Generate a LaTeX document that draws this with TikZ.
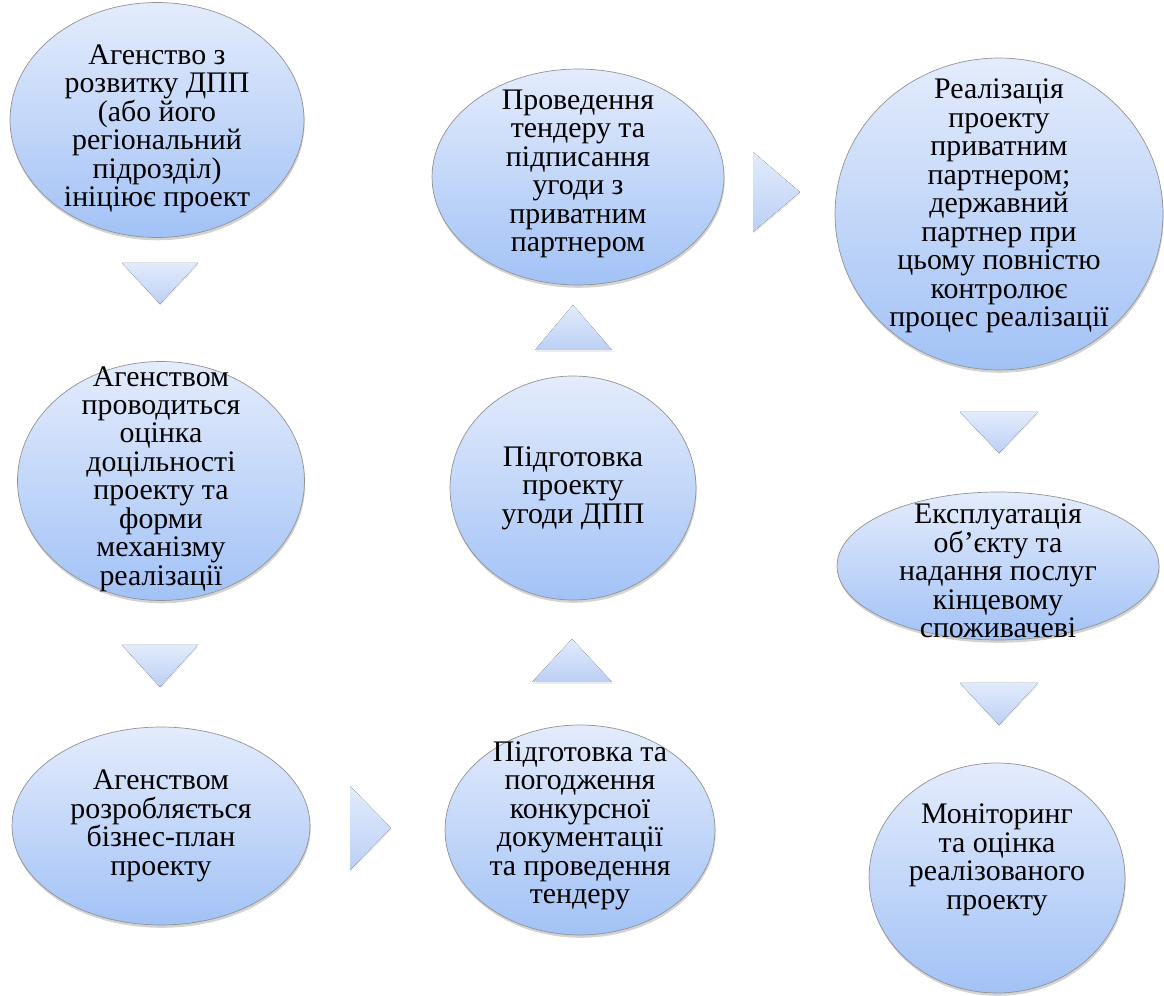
\documentclass[tikz,border=0pt]{standalone}
\usepackage{fontspec}
\setmainfont{Liberation Serif}[Ligatures=TeX]
\usepackage{tikz}
\usetikzlibrary{shapes.geometric, shadows}

\definecolor{bubtop}{RGB}{228,236,252}
\definecolor{bubbot}{RGB}{162,194,246}
\definecolor{tritop}{RGB}{226,235,252}
\definecolor{tribot}{RGB}{188,208,245}

\tikzset{
  bubble/.style={draw=gray!85, thin, ellipse, inner sep=0pt, top color=bubtop, bottom color=bubbot,
    drop shadow={shadow xshift=0.4pt, shadow yshift=-1.6pt, opacity=0.35, fill=gray}},
  bubtext/.style={align=center, inner sep=0pt, font=\rmfamily\fontsize{17}{16.2}\selectfont},
  arrowtri/.style={top color=tritop, bottom color=tribot, draw=none,
    drop shadow={shadow xshift=0.3pt, shadow yshift=-1pt, opacity=0.15, fill=gray}}
}

\begin{document}
\begin{tikzpicture}[x=0.02cm, y=-0.02cm]
        \useasboundingbox (0,0) rectangle (1164,996);
        % Process steps of the PPP project
        \node[bubble, minimum width=5.88cm, minimum height=4.70cm] (init) at (157,120) {};
        \node[bubble, minimum width=5.74cm, minimum height=4.78cm] (assess) at (161,481) {};
        \node[bubble, minimum width=5.96cm, minimum height=3.96cm] (plan) at (161,826) {};
        \node[bubble, minimum width=5.40cm, minimum height=4.20cm] (docs) at (580,830) {};
        \node[bubble, minimum width=4.92cm, minimum height=4.48cm] (draft) at (573,488) {};
        \node[bubble, minimum width=5.84cm, minimum height=4.32cm] (tender) at (578,177) {};
        \node[bubble, minimum width=6.56cm, minimum height=6.24cm] (impl) at (999,214) {};
        \node[bubble, minimum width=6.44cm, minimum height=2.96cm] (oper) at (998,566) {};
        \node[bubble, minimum width=5.12cm, minimum height=4.60cm] (monit) at (997,878) {};

        \node[bubtext] (initt) at (157,129) {Агенство з\\розвитку ДПП\\(або його\\регіональний\\підрозділ)\\ініціює проект};
        \node[bubtext] (assesst) at (161,479) {Агенством\\проводиться\\оцінка\\доцільності\\проекту та\\форми\\механізму\\реалізації};
        \node[bubtext] (plant) at (plan) {Агенством\\розробляється\\бізнес-план\\проекту};
        \node[bubtext] (docst) at (580,826) {Підготовка та\\погодження\\конкурсної\\документації\\та проведення\\тендеру};
        \node[bubtext] (draftt) at (draft) {Підготовка\\проекту\\угоди ДПП};
        \node[bubtext] (tendert) at (578,174) {Проведення\\тендеру та\\підписання\\угоди з\\приватним\\партнером};
        \node[bubtext] (implt) at (999,206) {Реалізація\\проекту\\приватним\\партнером;\\державний\\партнер при\\цьому повністю\\контролює\\процес реалізації};
        \node[bubtext] (opert) at (998,571) {Експлуатація\\об’єкту та\\надання послуг\\кінцевому\\споживачеві};
        \node[bubtext] (monitt) at (997,860) {Моніторинг\\та оцінка\\реалізованого\\проекту};

        % arrows between the steps
        \fill[arrowtri] (122,263) -- (198,263) -- (160,304) -- cycle;
        \fill[arrowtri] (122,645) -- (198,645) -- (160,687) -- cycle;
        \fill[arrowtri] (350,786) -- (391,828) -- (350,870) -- cycle;
        \fill[arrowtri] (572,639) -- (612,682) -- (532,682) -- cycle;
        \fill[arrowtri] (573,305) -- (612,350) -- (535,350) -- cycle;
        \fill[arrowtri] (753,152) -- (800,192) -- (753,232) -- cycle;
        \fill[arrowtri] (960,412) -- (1038,412) -- (999,453) -- cycle;
        \fill[arrowtri] (960,683) -- (1038,683) -- (999,725) -- cycle;
    \end{tikzpicture}
\end{document}
